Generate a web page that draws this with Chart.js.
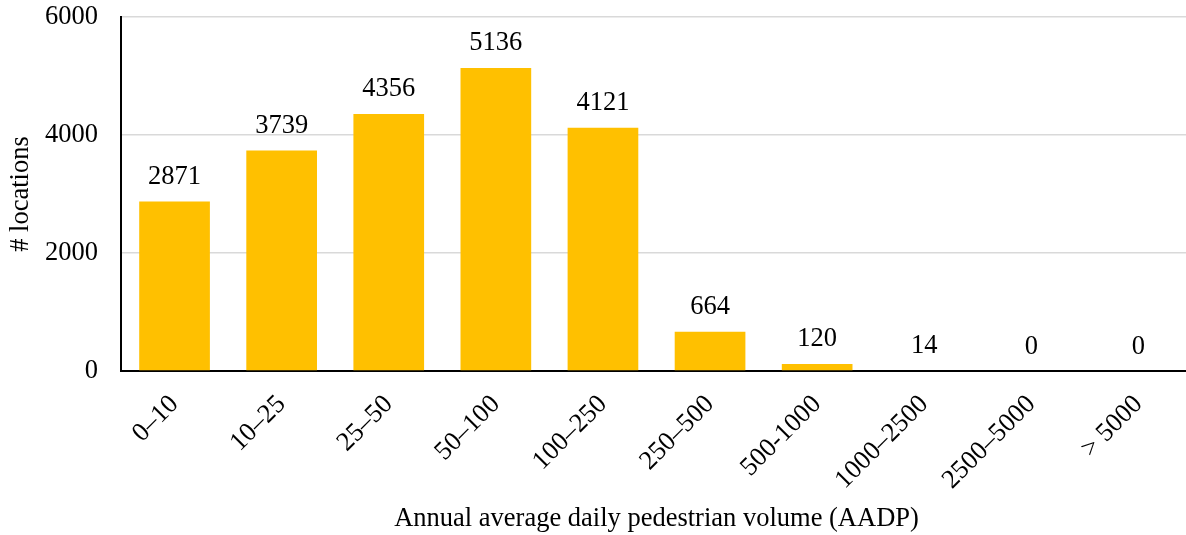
<!DOCTYPE html>
<html>
<head>
<meta charset="utf-8">
<script src="https://cdn.jsdelivr.net/npm/chart.js@4/dist/chart.umd.min.js"></script>
<style>
  html, body { margin: 0; padding: 0; background: #fff; overflow: hidden; }
  #wrap { width: 1186px; height: 535px; overflow: hidden; position: relative; }
  canvas { display: block; }
</style>
</head>
<body>
<div id="wrap"><canvas id="c" width="1200" height="535"></canvas></div>
<script>
// AADP volume bins and the number of count locations in each
const categories = ['0\u201310', '10\u201325', '25\u201350', '50\u2013100', '100\u2013250',
                    '250\u2013500', '500-1000', '1000\u20132500', '2500\u20135000', '> 5000'];
const locationCounts = [2871, 3739, 4356, 5136, 4121, 664, 120, 14, 0, 0];
const yTicks = [0, 2000, 4000, 6000];

const FONT = 'Liberation Serif, "Times New Roman", serif';
const SIZE = 26.5;

// Writes each bar's count just above it
const valueLabels = {
  id: 'valueLabels',
  afterDatasetsDraw(chart) {
    const ctx = chart.ctx;
    const meta = chart.getDatasetMeta(0);
    ctx.save();
    ctx.font = SIZE + 'px ' + FONT;
    ctx.fillStyle = '#000';
    ctx.textAlign = 'center';
    ctx.textBaseline = 'alphabetic';
    meta.data.forEach((bar, i) => {
      ctx.fillText(String(locationCounts[i]), bar.x, bar.y - 17.5);
    });
    ctx.restore();
  }
};

new Chart(document.getElementById('c'), {
  type: 'bar',
  data: {
    labels: categories,
    datasets: [{
      data: locationCounts,
      backgroundColor: '#FFC000',
      borderWidth: 0,
      categoryPercentage: 1.0,
      barPercentage: 0.66
    }]
  },
  plugins: [valueLabels],
  options: {
    responsive: false,
    animation: false,
    layout: { padding: { top: 17, right: 8, left: 0, bottom: 0 } },
    plugins: { legend: { display: false }, tooltip: { enabled: false } },
    scales: {
      x: {
        grid: { display: false, drawTicks: false },
        border: { display: true, color: '#000', width: 2 },
        ticks: {
          color: '#000',
          font: { family: FONT, size: SIZE },
          maxRotation: 45, minRotation: 45,
          padding: 18,
          autoSkip: false
        },
        title: {
          display: true,
          text: 'Annual average daily pedestrian volume (AADP)',
          color: '#000',
          font: { family: FONT, size: SIZE },
          padding: { top: 0, bottom: 0 }
        },
        afterFit(scale) { scale.height = 164; }
      },
      y: {
        min: 0, max: 6000,
        afterBuildTicks(scale) { scale.ticks = yTicks.map(v => ({ value: v })); },
        grid: { color: '#D9D9D9', lineWidth: 1.5, drawTicks: false },
        border: { display: true, color: '#000', width: 2 },
        ticks: {
          color: '#000',
          font: { family: FONT, size: SIZE },
          padding: 23,
          callback: (v) => String(v)
        },
        title: {
          display: true,
          text: '# locations',
          color: '#000',
          font: { family: FONT, size: SIZE },
          padding: { top: 5, bottom: 0 }
        },
        afterFit(scale) {
          scale.width = 121;
          scale.paddingTop = 0;
          scale.paddingBottom = 0;
        }
      }
    }
  }
});
</script>
</body>
</html>
